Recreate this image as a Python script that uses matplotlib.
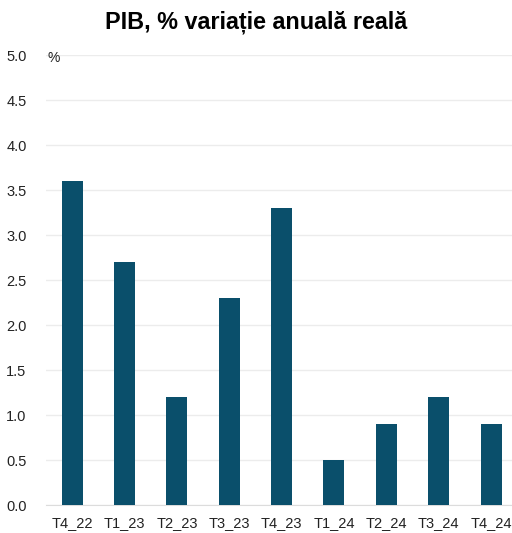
import matplotlib
matplotlib.use("Agg")
import matplotlib.pyplot as plt

plt.rcParams['font.family'] = ['Liberation Sans', 'DejaVu Sans']

quarters = ['T4_22', 'T1_23', 'T2_23', 'T3_23', 'T4_23', 'T1_24', 'T2_24', 'T3_24', 'T4_24']
gdp_growth = [3.6, 2.7, 1.2, 2.3, 3.3, 0.5, 0.9, 1.2, 0.9]
y_ticks = [0.0, 0.5, 1.0, 1.5, 2.0, 2.5, 3.0, 3.5, 4.0, 4.5, 5.0]

fig = plt.figure(figsize=(5.12, 5.33), dpi=100)
ax = fig.add_axes([0.0898, 0.0525, 0.9102, 0.8443])

ax.bar(range(len(quarters)), gdp_growth, width=0.4, color='#0a4f6b', zorder=3)

ax.set_ylim(0, 5)
ax.set_xlim(-0.5, 8.4)
ax.set_yticks(y_ticks)
ax.set_yticklabels([f'{v:.1f}' for v in y_ticks])
ax.set_xticks(range(len(quarters)))
ax.set_xticklabels(quarters)
ax.tick_params(axis='both', length=0, labelsize=10.5, colors='#222222')
ax.tick_params(axis='y', pad=14)
ax.tick_params(axis='x', pad=8)

ax.grid(axis='y', color='#ececec', linewidth=1, zorder=0)
for side in ['top', 'right', 'left']:
    ax.spines[side].set_visible(False)
ax.spines['bottom'].set_color('#dcdcdc')

# "%" unit label sits just inside the plot, level with the top tick
ax.text(0.003, 4.97, '%', fontsize=10, ha='left', va='center', color='#222222',
        transform=ax.get_yaxis_transform())

fig.text(0.5, 0.958, 'PIB, % variație anuală reală', ha='center', va='center',
         fontsize=16.8, fontweight='bold')

fig.savefig('out.png', dpi=100)
